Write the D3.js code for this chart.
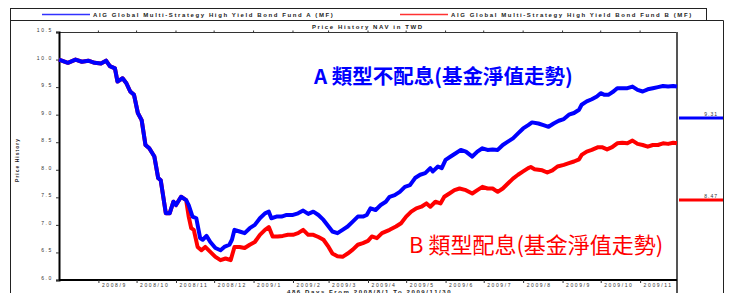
<!DOCTYPE html>
<html>
<head>
<meta charset="utf-8">
<script src="https://cdn.jsdelivr.net/npm/d3@7"></script>
<style>
  body { margin: 0; background: #fff; }
  svg { display: block; }
  .tiny { font-family: "Liberation Sans", Arial, sans-serif; font-size: 5px; fill: #333; letter-spacing: 1.6px; }
  .cap { font-family: "Liberation Sans", Arial, sans-serif; font-size: 6px; font-weight: bold; fill: #222; letter-spacing: 1.6px; }
</style>
</head>
<body>
<div id="chart"></div>
<script>
// legend names
const fundNames = [
    'AIG Global Multi-Strategy High Yield Bond Fund A (MF)',
    'AIG Global Multi-Strategy High Yield Bond Fund B (MF)'
];
const yTicks = [6.0, 6.5, 7.0, 7.5, 8.0, 8.5, 9.0, 9.5, 10.0, 10.5];
const monthTicks = ['2008-09-01', '2008-10-01', '2008-11-01', '2008-12-01', '2009-01-01', '2009-02-01', '2009-03-01',
    '2009-04-01', '2009-05-01', '2009-06-01', '2009-07-01', '2009-08-01', '2009-09-01', '2009-10-01', '2009-11-01'];
const lastValues = [9.31, 8.47];

// fund A (no dividend)
const datesA = ['2008-08-01', '2008-08-08', '2008-08-14', '2008-08-19', '2008-08-24', '2008-08-29', '2008-09-03', '2008-09-07',
    '2008-09-10', '2008-09-14', '2008-09-16', '2008-09-20', '2008-09-23', '2008-09-26', '2008-09-29', '2008-10-02',
    '2008-10-05', '2008-10-08', '2008-10-11', '2008-10-15', '2008-10-18', '2008-10-20', '2008-10-24', '2008-10-27',
    '2008-10-30', '2008-11-01', '2008-11-05', '2008-11-09', '2008-11-11', '2008-11-14', '2008-11-17', '2008-11-20',
    '2008-11-22', '2008-11-25', '2008-11-28', '2008-12-02', '2008-12-06', '2008-12-09', '2008-12-13', '2008-12-15',
    '2008-12-17', '2008-12-21', '2008-12-25', '2008-12-29', '2009-01-02', '2009-01-06', '2009-01-10', '2009-01-13',
    '2009-01-15', '2009-01-19', '2009-01-23', '2009-01-27', '2009-02-01', '2009-02-05', '2009-02-09', '2009-02-13',
    '2009-02-17', '2009-02-21', '2009-02-25', '2009-03-01', '2009-03-04', '2009-03-08', '2009-03-12', '2009-03-16',
    '2009-03-20', '2009-03-24', '2009-03-28', '2009-03-31', '2009-04-03', '2009-04-07', '2009-04-11', '2009-04-15',
    '2009-04-18', '2009-04-22', '2009-04-26', '2009-04-30', '2009-05-04', '2009-05-08', '2009-05-12', '2009-05-16',
    '2009-05-20', '2009-05-22', '2009-05-26', '2009-05-29', '2009-06-01', '2009-06-05', '2009-06-09', '2009-06-13',
    '2009-06-17', '2009-06-22', '2009-06-26', '2009-06-30', '2009-07-04', '2009-07-08', '2009-07-12', '2009-07-16',
    '2009-07-20', '2009-07-24', '2009-07-28', '2009-08-01', '2009-08-05', '2009-08-08', '2009-08-13', '2009-08-17',
    '2009-08-21', '2009-08-25', '2009-08-29', '2009-09-02', '2009-09-06', '2009-09-10', '2009-09-14', '2009-09-16',
    '2009-09-20', '2009-09-24', '2009-09-28', '2009-10-01', '2009-10-04', '2009-10-07', '2009-10-11', '2009-10-14',
    '2009-10-18', '2009-10-22', '2009-10-26', '2009-10-30', '2009-11-03', '2009-11-07', '2009-11-11', '2009-11-15',
    '2009-11-19', '2009-11-23', '2009-11-27', '2009-11-30'];
const navA = [10.00, 9.94, 10.00, 9.96, 9.98, 9.94, 9.93, 9.98,
    9.88, 9.84, 9.60, 9.66, 9.57, 9.42, 9.36, 9.03,
    8.90, 8.45, 8.39, 8.24, 7.85, 7.81, 7.21, 7.21,
    7.42, 7.36, 7.51, 7.45, 7.36, 7.15, 7.12, 6.76,
    6.73, 6.80, 6.69, 6.58, 6.54, 6.60, 6.64, 6.73,
    6.91, 6.88, 6.85, 6.94, 7.00, 7.12, 7.21, 7.24,
    7.12, 7.15, 7.15, 7.18, 7.18, 7.21, 7.26, 7.20,
    7.24, 7.18, 7.09, 6.97, 6.88, 6.85, 6.91, 6.97,
    7.06, 7.15, 7.15, 7.18, 7.30, 7.27, 7.36, 7.42,
    7.51, 7.54, 7.60, 7.69, 7.72, 7.85, 7.91, 7.94,
    8.03, 7.97, 8.06, 8.03, 8.18, 8.24, 8.30, 8.36,
    8.33, 8.24, 8.33, 8.39, 8.36, 8.37, 8.36, 8.45,
    8.51, 8.57, 8.66, 8.75, 8.81, 8.86, 8.84, 8.81,
    8.78, 8.84, 8.89, 8.92, 9.00, 9.03, 9.09, 9.18,
    9.24, 9.28, 9.33, 9.39, 9.36, 9.36, 9.42, 9.48,
    9.48, 9.48, 9.51, 9.45, 9.42, 9.46, 9.48, 9.50,
    9.52, 9.51, 9.52, 9.51];

// fund B (dividend) - identical to A until the first payout in Nov 2008
const datesB = ['2008-08-01', '2008-08-08', '2008-08-14', '2008-08-19', '2008-08-24', '2008-08-29', '2008-09-03', '2008-09-07',
    '2008-09-10', '2008-09-14', '2008-09-16', '2008-09-20', '2008-09-23', '2008-09-26', '2008-09-29', '2008-10-02',
    '2008-10-05', '2008-10-08', '2008-10-11', '2008-10-15', '2008-10-18', '2008-10-20', '2008-10-24', '2008-10-27',
    '2008-10-30', '2008-11-01', '2008-11-05', '2008-11-09', '2008-11-11', '2008-11-13', '2008-11-15', '2008-11-18',
    '2008-11-21', '2008-11-24', '2008-11-28', '2008-12-02', '2008-12-06', '2008-12-10', '2008-12-14', '2008-12-17',
    '2008-12-21', '2008-12-25', '2008-12-29', '2009-01-02', '2009-01-06', '2009-01-10', '2009-01-13', '2009-01-16',
    '2009-01-20', '2009-01-24', '2009-01-28', '2009-02-01', '2009-02-05', '2009-02-09', '2009-02-13', '2009-02-17',
    '2009-02-21', '2009-02-25', '2009-03-01', '2009-03-04', '2009-03-08', '2009-03-12', '2009-03-16', '2009-03-20',
    '2009-03-24', '2009-03-28', '2009-04-01', '2009-04-04', '2009-04-08', '2009-04-12', '2009-04-18', '2009-04-23',
    '2009-04-27', '2009-05-01', '2009-05-05', '2009-05-09', '2009-05-13', '2009-05-17', '2009-05-20', '2009-05-24',
    '2009-05-28', '2009-05-31', '2009-06-04', '2009-06-08', '2009-06-12', '2009-06-17', '2009-06-22', '2009-06-26',
    '2009-06-30', '2009-07-04', '2009-07-08', '2009-07-12', '2009-07-16', '2009-07-20', '2009-07-24', '2009-07-28',
    '2009-08-01', '2009-08-05', '2009-08-07', '2009-08-10', '2009-08-16', '2009-08-20', '2009-08-24', '2009-08-28',
    '2009-09-02', '2009-09-06', '2009-09-10', '2009-09-14', '2009-09-16', '2009-09-20', '2009-09-24', '2009-09-29',
    '2009-10-02', '2009-10-06', '2009-10-10', '2009-10-14', '2009-10-18', '2009-10-22', '2009-10-26', '2009-10-30',
    '2009-11-03', '2009-11-07', '2009-11-11', '2009-11-15', '2009-11-19', '2009-11-23', '2009-11-27', '2009-11-30'];
const navB = [10.00, 9.94, 10.00, 9.96, 9.98, 9.94, 9.93, 9.98,
    9.88, 9.84, 9.60, 9.66, 9.57, 9.42, 9.36, 9.03,
    8.90, 8.45, 8.39, 8.24, 7.85, 7.81, 7.21, 7.21,
    7.42, 7.36, 7.51, 7.45, 7.15, 6.94, 6.91, 6.60,
    6.54, 6.60, 6.51, 6.42, 6.36, 6.39, 6.36, 6.60,
    6.60, 6.58, 6.64, 6.69, 6.82, 6.91, 6.96, 6.79,
    6.79, 6.80, 6.82, 6.82, 6.85, 6.91, 6.82, 6.82,
    6.78, 6.73, 6.60, 6.48, 6.43, 6.42, 6.48, 6.55,
    6.64, 6.67, 6.71, 6.79, 6.76, 6.85, 6.91, 6.97,
    7.03, 7.15, 7.24, 7.30, 7.33, 7.39, 7.33, 7.42,
    7.39, 7.51, 7.57, 7.63, 7.66, 7.63, 7.57, 7.63,
    7.69, 7.66, 7.66, 7.60, 7.66, 7.75, 7.84, 7.91,
    7.97, 8.03, 8.05, 8.01, 7.99, 7.95, 7.99, 8.06,
    8.09, 8.12, 8.15, 8.19, 8.27, 8.33, 8.36, 8.41,
    8.41, 8.37, 8.41, 8.48, 8.49, 8.48, 8.53, 8.47,
    8.45, 8.42, 8.45, 8.45, 8.48, 8.47, 8.49, 8.48];

const colors = ['#0000ff', '#ff0000'];

const width = 731, height = 293;
const margin = { top: 32, right: 53, bottom: 13, left: 59 };
const parse = d3.timeParse('%Y-%m-%d');

const seriesA = datesA.map((d, i) => ({ date: parse(d), v: navA[i] }));
const seriesB = datesB.map((d, i) => ({ date: parse(d), v: navB[i] }));

const svg = d3.select('#chart').append('svg').attr('width', width).attr('height', height);

// outer frame
svg.append('rect').attr('x', 10.5).attr('y', 8.5).attr('width', 696).attr('height', 12)
    .attr('fill', 'none').attr('stroke', '#222');
svg.append('path').attr('d', 'M10.5,20.5 H723.5 V300 M10.5,20.5 V300').attr('fill', 'none').attr('stroke', '#222');

// legend
const legendX = [42, 400];
fundNames.forEach((name, i) => {
    svg.append('line').attr('x1', legendX[i]).attr('x2', legendX[i] + 48).attr('y1', 14.5).attr('y2', 14.5)
        .attr('stroke', colors[i]).attr('stroke-width', 1.5).attr('opacity', 0.8);
    svg.append('text').attr('class', 'cap').attr('x', legendX[i] + 51).attr('y', 16.5).text(name);
});

svg.append('text').attr('class', 'cap').attr('x', 312).attr('y', 29).text('Price History NAV in TWD');

const x = d3.scaleTime().domain([parse('2008-08-01'), parse('2009-11-30')]).range([margin.left, width - margin.right - 1]);
const y = d3.scaleLinear().domain([6, 10.5]).range([height - margin.bottom, margin.top]);

// frame of the plot
svg.append('line').attr('x1', margin.left).attr('x2', x.range()[1]).attr('y1', y(10.5) + 0.5).attr('y2', y(10.5) + 0.5)
    .attr('stroke', '#333').attr('stroke-width', 1);
svg.append('line').attr('x1', x.range()[1]).attr('x2', x.range()[1]).attr('y1', y(10.5)).attr('y2', height)
    .attr('stroke', '#555').attr('stroke-width', 2);

// y axis
const yAxis = svg.append('g').attr('transform', `translate(${margin.left},0)`)
    .call(d3.axisLeft(y).tickValues(yTicks).tickSize(3).tickFormat(d3.format('.1f')));
yAxis.select('.domain').attr('stroke', '#000').attr('stroke-width', 2);
yAxis.selectAll('.tick line').attr('stroke', '#333');
yAxis.selectAll('.tick text').attr('class', 'tiny').attr('x', -6).attr('dy', '-0.1em').style('font', null);

// x axis
const xAxis = svg.append('g').attr('transform', `translate(0,${y(6)})`)
    .call(d3.axisBottom(x).tickValues(monthTicks.map(parse)).tickSize(3).tickFormat(d3.timeFormat('%Y/%-m')));
xAxis.select('.domain').attr('stroke', '#000').attr('stroke-width', 2).attr('d', `M${margin.left},0H${x.range()[1]}`);
xAxis.selectAll('.tick line').attr('stroke', '#333');
xAxis.selectAll('.tick text').attr('class', 'tiny').attr('text-anchor', 'start').attr('x', 3).attr('y', 3).attr('dy', '0.7em').style('font', null);

// small ticks on the top edge
svg.append('g').selectAll('line').data(monthTicks.map(parse)).join('line')
    .attr('x1', (d) => x(d)).attr('x2', (d) => x(d)).attr('y1', y(10.5) - 1.5).attr('y2', y(10.5) + 1)
    .attr('stroke', '#333');

svg.append('text').attr('class', 'cap').attr('x', 287).attr('y', 293.5).text('486 Days From 2008/8/1 To 2009/11/30');
svg.append('text').attr('class', 'cap').style('font-size', '5px').style('letter-spacing', '1px')
    .attr('transform', 'translate(19,160) rotate(-90)').attr('text-anchor', 'middle').text('Price History');

// lines
const line = d3.line().x((d) => x(d.date)).y((d) => y(d.v));
[seriesB, seriesA].forEach((s, i) => {
    svg.append('path').datum(s).attr('d', line).attr('fill', 'none')
        .attr('stroke', colors[1 - i]).attr('stroke-width', 4).attr('stroke-linejoin', 'round');
});

// last value markers on the right
const markerY = d3.scaleLinear().domain([8.47, 9.31]).range([200, 118]);
lastValues.forEach((v, i) => {
    svg.append('line').attr('x1', x.range()[1] + 2).attr('x2', 723).attr('y1', markerY(v)).attr('y2', markerY(v))
        .attr('stroke', colors[i]).attr('stroke-width', 3);
    svg.append('text').attr('class', 'tiny').style('letter-spacing', '1px').attr('x', 718).attr('y', markerY(v) - 2.5)
        .attr('text-anchor', 'end').text(v.toFixed(2));
});

// annotations
svg.append('text').attr('x', 314).attr('y', 84).attr('fill', colors[0])
    .style('font-family', '"Noto Sans CJK TC", sans-serif').style('font-size', '20.5px').style('font-weight', 'bold')
    .text('A 類型不配息(基金淨值走勢)');
svg.append('text').attr('x', 409).attr('y', 253).attr('fill', colors[1])
    .style('font-family', '"Noto Sans CJK TC", sans-serif').style('font-size', '22px')
    .text('B 類型配息(基金淨值走勢)');
</script>
</body>
</html>
